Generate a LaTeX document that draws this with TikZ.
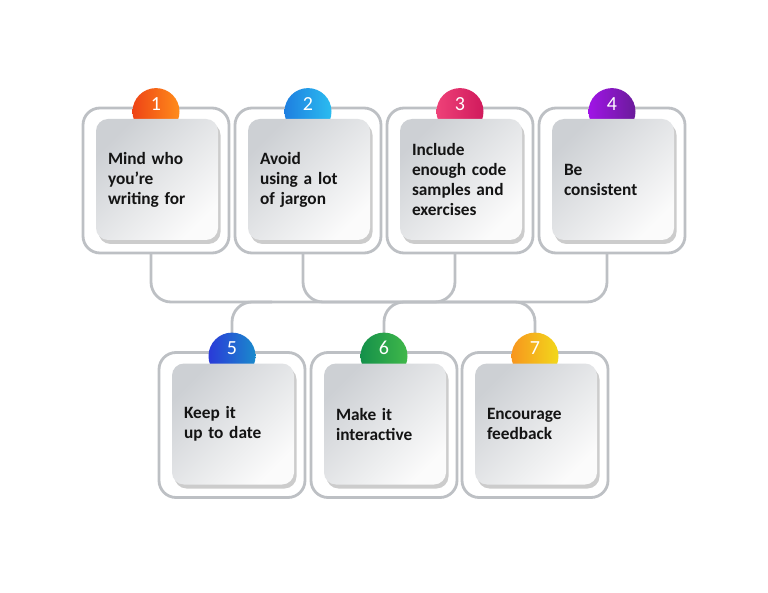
\documentclass[tikz,border=0pt]{standalone}
\usepackage{fontspec}
\setmainfont{Carlito}
\usetikzlibrary{shadows,calc}
\definecolor{linegray}{HTML}{BDC0C4}
\definecolor{cardgray}{HTML}{CDD0D4}
\definecolor{cardwhite}{HTML}{FBFBFB}
\definecolor{txt}{HTML}{141414}
\definecolor{oA}{HTML}{EE4416}\definecolor{oB}{HTML}{FF8C1A}
\definecolor{bA}{HTML}{1E7FE0}\definecolor{bB}{HTML}{2BBCF0}
\definecolor{pA}{HTML}{EE4178}\definecolor{pB}{HTML}{D01A5C}
\definecolor{vA}{HTML}{A014E6}\definecolor{vB}{HTML}{6A1B9A}
\definecolor{dA}{HTML}{2A3AD8}\definecolor{dB}{HTML}{1A8ACC}
\definecolor{gA}{HTML}{14904A}\definecolor{gB}{HTML}{40B84A}
\definecolor{yA}{HTML}{F7961E}\definecolor{yB}{HTML}{F2D81B}
\tikzset{
  outerbox/.style={draw=linegray, line width=2.8pt, fill=white, rounded corners=17pt,
    minimum width=146pt, minimum height=145pt, inner sep=0pt},
  card/.style={rounded corners=12pt, minimum width=122pt, minimum height=121pt, inner sep=0pt,
    top color=cardgray, bottom color=cardwhite, shading angle=45,
    drop shadow={shadow xshift=2.5pt, shadow yshift=-4pt, opacity=0.4, fill=black!50}},
  cardtext/.style={font=\bfseries\fontsize{17.3}{20}\selectfont, text=txt, align=left,
    text width=108pt, anchor=west, inner sep=0pt},
  badge/.style={circle, minimum size=47pt, inner sep=0pt},
  badgenum/.style={text=white, font=\fontsize{20}{20}\selectfont, inner sep=0pt},
  conn/.style={draw=linegray, line width=2.8pt, rounded corners=20pt}
}
\begin{document}
\begin{tikzpicture}[x=1pt,y=-1pt]
\useasboundingbox (0,0) rectangle (768,593);
% positions (box centers)
\coordinate (p1) at (156,180.5);
\coordinate (p2) at (308,180.5);
\coordinate (p3) at (460,180.5);
\coordinate (p4) at (612,180.5);
\coordinate (p5) at (232,425);
\coordinate (p6) at (384,425);
\coordinate (p7) at (535,425);
\coordinate (h) at (0,302);
% connectors
\foreach \i in {1,...,4}{\coordinate (c\i) at ($(p\i)+(-5,72)$);}
\foreach \i in {5,6,7}{\coordinate (c\i) at ($(p\i)+(0,-90)$);}
\draw[conn] (c1) -- (c1 |- h) -- (c4 |- h) -- (c4);
\draw[conn] (c2) -- (c2 |- h) -- (c3 |- h) -- (c3);
\draw[conn] (c5) -- (c5 |- h) -- ($(c5 |- h)+(40,0)$);
\draw[conn] (c6) -- (c6 |- h) -- (c7 |- h) -- (c7);
% boxes
\foreach \i in {1,...,7}{\node[outerbox] (o\i) at (p\i) {};}
% badges
\foreach \i/\ca/\cb in {1/oA/oB,2/bA/bB,3/pA/pB,4/vA/vB,5/dA/dB,6/gA/gB,7/yA/yB}{
  \node[badge, left color=\ca, right color=\cb] (g\i) at ($(o\i.north)+(0,5)$) {};
  \node[badgenum] (k\i) at ($(o\i.north)+(0,-3)$) {\i};
}
% cards
\foreach \i in {1,...,7}{\node[card] (d\i) at ($(p\i)+(1,-1)$) {};}
% texts
\node[cardtext] (t1) at ($(d1.west)+(12,0)$) {Mind who\\you’re\\writing for};
\node[cardtext] (t2) at ($(d2.west)+(12,0)$) {Avoid\\using a lot\\of jargon};
\node[cardtext] (t3) at ($(d3.west)+(12,0)$) {Include\\enough code\\samples and\\exercises};
\node[cardtext] (t4) at ($(d4.west)+(12,0)$) {Be\\consistent};
\node[cardtext] (t5) at ($(d5.west)+(12,0)$) {Keep it\\up to date};
\node[cardtext] (t6) at ($(d6.west)+(12,0)$) {Make it\\interactive};
\node[cardtext] (t7) at ($(d7.west)+(12,0)$) {Encourage\\feedback};
\end{tikzpicture}
\end{document}
